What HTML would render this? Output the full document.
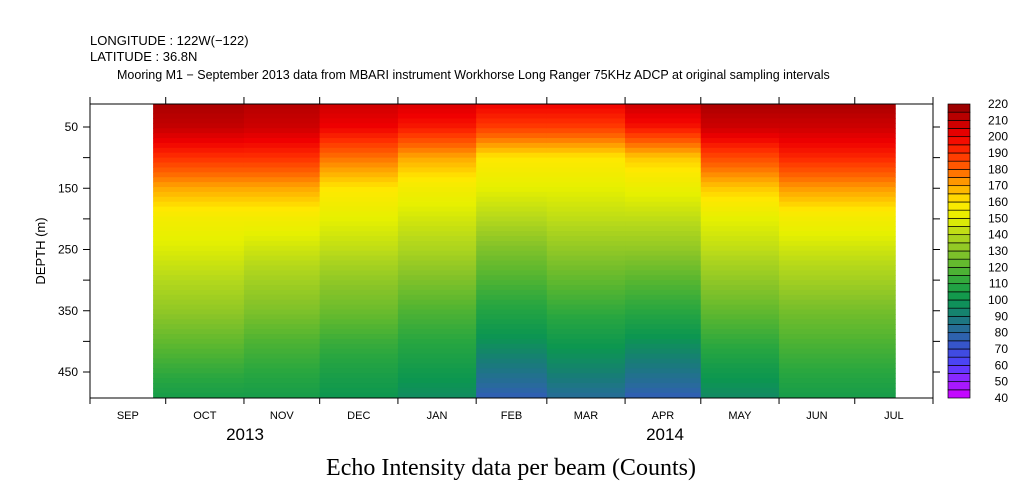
<!DOCTYPE html>
<html><head><meta charset="utf-8"><style>
body{margin:0;background:#fff;}
svg{display:block;}
text{font-family:"Liberation Sans",sans-serif;}
</style></head><body>
<svg id="chart" width="1009" height="504" xmlns="http://www.w3.org/2000/svg">
<text x="90" y="45" font-size="13">LONGITUDE : 122W(−122)</text>
<text x="90" y="61" font-size="13">LATITUDE : 36.8N</text>
<text x="117" y="79" font-size="12.5">Mooring M1 − September 2013 data from MBARI instrument Workhorse Long Ranger 75KHz ADCP at original sampling intervals</text>
<g id="heat"></g>
<g id="axes"></g>
<g id="cbar"></g>
<text transform="translate(45,251) rotate(-90)" text-anchor="middle" font-size="13">DEPTH (m)</text>
<text x="245" y="440" text-anchor="middle" font-size="17">2013</text>
<text x="665" y="440" text-anchor="middle" font-size="17">2014</text>
<text x="511" y="475" text-anchor="middle" font-size="24" style="font-family:'Liberation Serif',serif">Echo Intensity data per beam (Counts)</text>
</svg>
<script>
// data: periods (days from Sep 1 2013), depth levels (m), profile values (counts)
const periodStart = [25, 61, 91, 122, 153, 181, 212, 242, 273];
const periodEnd   = [61, 91, 122, 153, 181, 212, 242, 273, 319];
const depthLevels = [12, 50, 100, 150, 200, 250, 300, 350, 400, 450, 492];
const profiles = [
 [215, 210, 190, 170, 155, 148, 140, 132, 122, 112, 104],
 [213, 208, 190, 170, 155, 145, 136, 128, 118, 110, 104],
 [208, 200, 178, 160, 150, 142, 132, 124, 114, 106, 100],
 [205, 195, 170, 155, 146, 138, 128, 118, 110, 102, 96],
 [200, 188, 160, 150, 140, 128, 118, 108, 98, 86, 76],
 [200, 188, 160, 150, 142, 132, 122, 112, 102, 92, 82],
 [208, 196, 165, 152, 142, 132, 120, 110, 98, 86, 76],
 [215, 208, 185, 165, 150, 142, 132, 122, 112, 102, 95],
 [215, 208, 192, 172, 155, 145, 136, 126, 118, 110, 104]
];
const monthLabels = ["SEP","OCT","NOV","DEC","JAN","FEB","MAR","APR","MAY","JUN","JUL"];
const monthDays = [0,30,61,91,122,153,181,212,242,273,303,334];
const depthTicks = [50,100,150,200,250,300,350,400,450];
const depthTickLabels = ["50","","150","","250","","350","","450"];
const cbarLevels = [40,50,60,70,80,90,100,110,120,130,140,150,160,170,180,190,200,210,220];
const paletteVals = [40,50,60,70,80,90,100,110,120,130,140,150,160,170,180,190,200,210,220];
const paletteCols = ["#d000ff","#9a20ff","#5040ff","#3a4ed8","#2a68a0","#187c78","#0c9650","#28a640","#58b630","#88c428","#b4d81c","#e6f000","#ffe800","#ffa800","#ff6400","#ff3000","#f00000","#c40000","#900000"];

const NS="http://www.w3.org/2000/svg";
const X0=90, X1=933, Y0=104, Y1=398;
const xs=d=>X0+(d/334)*(X1-X0);
const ys=m=>127+(m-50)*0.6125;
function hex(c){return [parseInt(c.slice(1,3),16),parseInt(c.slice(3,5),16),parseInt(c.slice(5,7),16)];}
function color(v){
  if(v<=paletteVals[0])return paletteCols[0];
  for(let i=1;i<paletteVals.length;i++){
    if(v<=paletteVals[i]){
      const t=(v-paletteVals[i-1])/(paletteVals[i]-paletteVals[i-1]);
      const a=hex(paletteCols[i-1]),b=hex(paletteCols[i]);
      return "rgb("+a.map((x,k)=>Math.round(x+(b[k]-x)*t)).join(",")+")";
    }
  }
  return paletteCols[paletteCols.length-1];
}
function mk(tag,attrs,parent){const e=document.createElementNS(NS,tag);for(const k in attrs)e.setAttribute(k,attrs[k]);parent.appendChild(e);return e;}
function interp(p,m){
  for(let i=1;i<depthLevels.length;i++){if(m<=depthLevels[i]){const t=(m-depthLevels[i-1])/(depthLevels[i]-depthLevels[i-1]);return p[i-1]+(p[i]-p[i-1])*t;}}
  return p[p.length-1];
}
const heat=document.getElementById('heat');
const dStep=8;
for(let c=0;c<profiles.length;c++){
  const x=xs(periodStart[c]), w=xs(periodEnd[c])-x;
  for(let m=depthLevels[0]; m<depthLevels[depthLevels.length-1]; m+=dStep){
    const m2=Math.min(m+dStep,depthLevels[depthLevels.length-1]);
    const y=ys(m), h=ys(m2)-y;
    const r=mk('rect',{x:x,y:y,width:w+0.6,height:h+0.6,fill:color(interp(profiles[c],(m+m2)/2))},heat);
    
    
  }
}
const ax=document.getElementById('axes');
const fr=mk('rect',{x:X0,y:Y0,width:X1-X0,height:Y1-Y0,fill:'none',stroke:'#000','stroke-width':1},ax);


monthDays.forEach(d=>{
  const x=xs(d);
  mk('line',{x1:x,x2:x,y1:Y1,y2:Y1+6,stroke:'#000'},ax);
  mk('line',{x1:x,x2:x,y1:Y0,y2:Y0-7,stroke:'#000'},ax);
});
monthLabels.forEach((l,i)=>{
  const t=mk('text',{x:(xs(monthDays[i])+xs(monthDays[i+1]))/2,y:419,'text-anchor':'middle','font-size':11},ax);
  t.textContent=l;
  
  
});
depthTicks.forEach((d,i)=>{
  const y=ys(d);
  mk('line',{x1:X0-7,x2:X0,y1:y,y2:y,stroke:'#000'},ax);
  mk('line',{x1:X1,x2:X1+7,y1:y,y2:y,stroke:'#000'},ax);
  if(depthTickLabels[i]){
    const t=mk('text',{x:X0-12,y:y+4,'text-anchor':'end','font-size':12},ax);
    t.textContent=depthTickLabels[i];
    
    
  }
});
const cb=document.getElementById('cbar');
const CX=948, CW=22, n=cbarLevels.length-1, bh=(Y1-Y0)/(n*2);
for(let i=0;i<n*2;i++){
  const v=cbarLevels[0]+(i+0.5)*5;
  const r=mk('rect',{x:CX,y:Y1-(i+1)*bh,width:CW,height:bh,fill:color(v),stroke:'#000','stroke-width':0.7},cb);
  
  
}
cbarLevels.forEach((v,i)=>{
  const t=mk('text',{x:1008,y:Y1-i*2*bh+4,'text-anchor':'end','font-size':12},cb);
  t.textContent=v;
  
  
});
</script>
</body></html>
